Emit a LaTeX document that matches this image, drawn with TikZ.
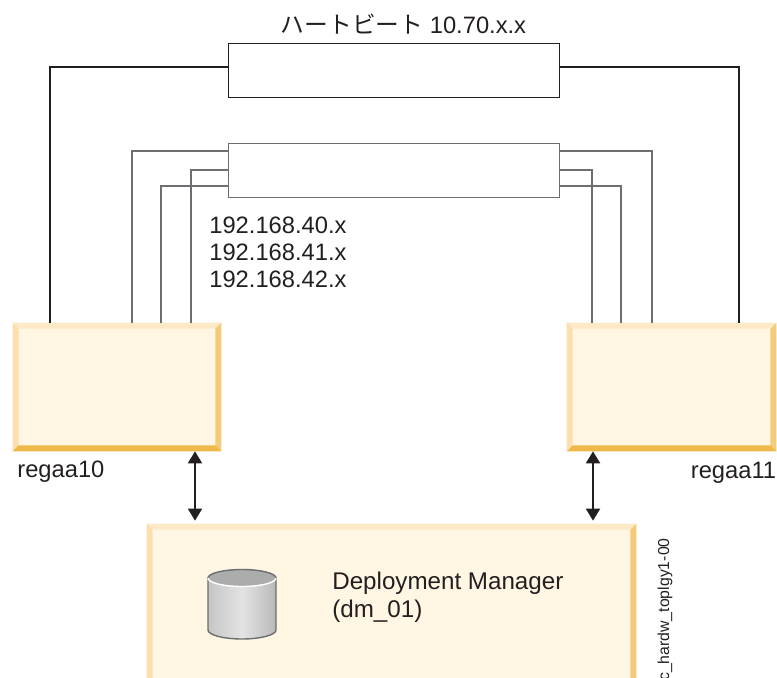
\documentclass[tikz,border=0pt]{standalone}
\usepackage{fontspec}
\setmainfont{Liberation Sans}
\newfontfamily\cjkfont{Noto Sans CJK JP}
\usetikzlibrary{calc}
\usetikzlibrary{arrows.meta}
\definecolor{cream}{RGB}{255, 247, 227}
\definecolor{beveltop}{RGB}{253, 233, 198}
\definecolor{bevelleft}{RGB}{251, 223, 174}
\definecolor{bevelright}{RGB}{245, 203, 122}
\definecolor{bevelbottom}{RGB}{239, 185, 74}
\definecolor{wiregray}{RGB}{109, 110, 113}
\definecolor{inkblack}{RGB}{35, 31, 32}
\tikzset{
    panel/.style={fill=cream, inner sep=0pt, minimum width=#1},
    switchbox/.style={draw=#1, line width=0.4pt, fill=white, inner sep=0pt, minimum width=6.62cm, minimum height=1.08cm},
    blackwire/.style={inkblack, line width=1.1pt},
    graywire/.style={wiregray, line width=1.1pt},
    linkarrow/.style={inkblack, line width=1.1pt, {Triangle[length=0.24cm,width=0.28cm]}-{Triangle[length=0.24cm,width=0.28cm]}},
    label/.style={inkblack, font=\fontsize{13.5}{15.4}\selectfont, inner sep=0pt},
}
\newcommand{\bevel}[1]{
    \fill[beveltop]    (#1.north west) -- (#1.north east) -- ($(#1.north east)+(-0.12,-0.12)$) -- ($(#1.north west)+(0.12,-0.12)$) -- cycle;
    \fill[bevelleft]   (#1.north west) -- (#1.south west) -- ($(#1.south west)+(0.12,0.12)$) -- ($(#1.north west)+(0.12,-0.12)$) -- cycle;
    \fill[bevelright]  (#1.north east) -- (#1.south east) -- ($(#1.south east)+(-0.12,0.12)$) -- ($(#1.north east)+(-0.12,-0.12)$) -- cycle;
    \fill[bevelbottom] (#1.south west) -- (#1.south east) -- ($(#1.south east)+(-0.12,0.12)$) -- ($(#1.south west)+(0.12,0.12)$) -- cycle;
}

\begin{document}
\begin{tikzpicture}
    \useasboundingbox (0,0) rectangle (15.54,13.54);
    % boxes
    \node[switchbox=inkblack]  (heartbeat) at (7.87,12.14) {};
    \node[switchbox=wiregray]  (privnet)   at (7.87,10.14) {};
    \node[panel=4.16cm, minimum height=2.56cm] (regaaten)    at ( 2.34,5.80) {};
    \node[panel=4.18cm, minimum height=2.56cm] (regaaeleven) at (13.43,5.80) {};
    \node[panel=9.78cm, minimum height=3.56cm] (dmgr)        at ( 7.83,1.28) {};
    \bevel{regaaten}
    \bevel{regaaeleven}
    \bevel{dmgr}
    % wires
    \draw[blackwire] ([yshift= 0.06cm]heartbeat.west) -| ([xshift=0.75cm]regaaten.north west);
    \draw[blackwire] ([yshift= 0.06cm]heartbeat.east) -| ([xshift=3.45cm]regaaeleven.north west);
    \draw[graywire]  ([yshift= 0.38cm]privnet.west)   -| ([xshift=2.39cm]regaaten.north west);
    \draw[graywire]  ([yshift= 0.00cm]privnet.west)   -| ([xshift=3.57cm]regaaten.north west);
    \draw[graywire]  ([yshift=-0.32cm]privnet.west)   -| ([xshift=2.97cm]regaaten.north west);
    \draw[graywire]  ([yshift= 0.38cm]privnet.east)   -| ([xshift=1.71cm]regaaeleven.north west);
    \draw[graywire]  ([yshift= 0.00cm]privnet.east)   -| ([xshift=0.51cm]regaaeleven.north west);
    \draw[graywire]  ([yshift=-0.32cm]privnet.east)   -| ([xshift=1.09cm]regaaeleven.north west);
    % links to the manager
    \coordinate (linka) at ( 3.90,0);
    \coordinate (linkb) at (11.86,0);
    \draw[linkarrow, shorten >=0.06cm] (linka |- regaaten.south)    -- (linka |- dmgr.north);
    \draw[linkarrow, shorten >=0.06cm] (linkb |- regaaeleven.south) -- (linkb |- dmgr.north);
    % disk
    \shade[left color=gray!45, right color=gray!55, middle color=gray!22, draw=wiregray, line width=0.8pt]
        (4.16,1.98) -- (4.16,0.94) arc (180:360:0.68 and 0.18) -- (5.52,1.98) -- cycle;
    \filldraw[draw=wiregray, fill=gray!65, line width=0.8pt] (5.52,1.98) arc (0:180:0.68 and 0.17);
    \filldraw[draw=white, fill=gray!65, line width=0.8pt] (4.16,1.98) arc (180:360:0.68 and 0.17);
    % labels
    \node[label] (hblabel)  at (8.07,13.06) {{\cjkfont ハートビート} 10.70.x.x};
    \node[label, anchor=west, align=left] (iplabel) at (4.18,8.50) {192.168.40.x\\192.168.41.x\\192.168.42.x};
    \node[label, anchor=west] (tenlabel)    at ( 0.34,4.11) {regaa10};
    \node[label, anchor=east] (elevenlabel) at (15.53,4.09) {regaa11};
    \node[label, anchor=west, align=left, font=\fontsize{13.75}{16}\selectfont] (dmlabel) at (6.64,1.59) {Deployment Manager\\(dm\_01)};
    \node[label, anchor=east, rotate=90, font=\fontsize{9.0}{10}\selectfont] (figlabel) at (13.30,2.78) {c\_hardw\_toplgy1-00};
\end{tikzpicture}
\end{document}
